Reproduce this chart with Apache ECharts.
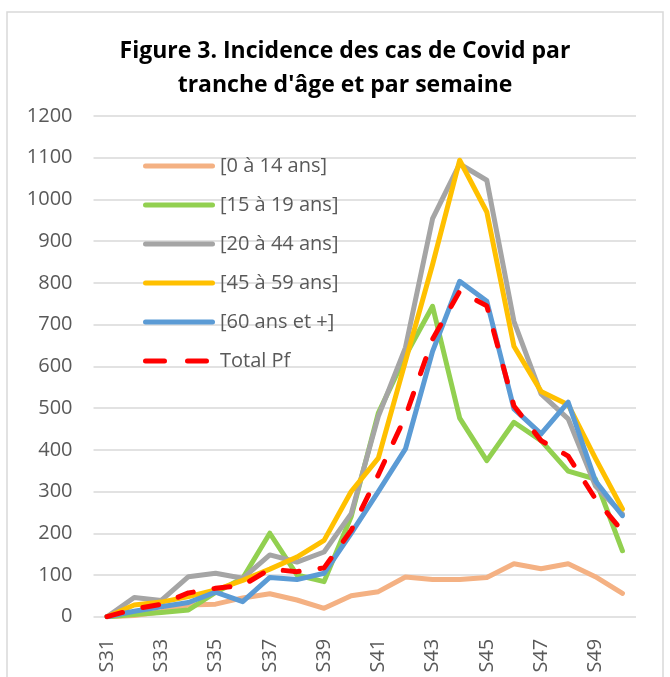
<!DOCTYPE html>
<html>
<head>
<meta charset="utf-8">
<title>Incidence Covid</title>
<script src="https://cdn.jsdelivr.net/npm/echarts@6/dist/echarts.min.js"></script>
<style>
  html, body {
    margin: 0;
    padding: 0;
    background: #FFFFFF;
  }
  #chart {
    width: 670px;
    height: 677px;
  }
</style>
</head>
<body>
<div id="chart"></div>
<script>
const weeks = ['S31', 'S32', 'S33', 'S34', 'S35', 'S36', 'S37', 'S38', 'S39', 'S40',
  'S41', 'S42', 'S43', 'S44', 'S45', 'S46', 'S47', 'S48', 'S49', 'S50']

const age0to14 = [0, 3, 12, 28, 30, 45, 55, 40, 20, 50, 60, 95, 89, 89, 94, 127, 115, 127, 96, 56]
const age15to19 = [0, 5, 10, 16, 58, 92, 200, 100, 84, 240, 488, 625, 744, 476, 374, 466, 422, 349, 330, 158]
const age20to44 = [0, 46, 39, 96, 104, 92, 148, 131, 155, 247, 480, 645, 954, 1085, 1046, 708, 534, 474, 314, 246]
const age45to59 = [0, 28, 35, 48, 64, 87, 114, 143, 183, 300, 380, 612, 844, 1094, 970, 648, 540, 508, 380, 258]
const age60plus = [0, 13, 24, 34, 59, 36, 94, 89, 104, 200, 300, 402, 636, 804, 756, 498, 438, 514, 326, 242]
const totalPf = [0, 18, 30, 57, 68, 75, 114, 108, 117, 207, 340, 480, 665, 780, 745, 505, 422, 385, 283, 205]

const seriesNames = ['[0 à 14 ans]', '[15 à 19 ans]', '[20 à 44 ans]', '[45 à 59 ans]', '[60 ans et +]', 'Total Pf']

const font = '"Open Sans", "Noto Sans", sans-serif'

// legend icons drawn like the Excel ones: a thick bar, or two dashes
const solidIcon = 'path://M2.5,0 H69.5 A2.5,2.5 0 0 1 69.5,5 H2.5 A2.5,2.5 0 0 1 2.5,0 Z'
const dashedIcon = 'path://M72,2.5 L72,2.5 M2.5,0 H21.5 A2.5,2.5 0 0 1 21.5,5 H2.5 A2.5,2.5 0 0 1 2.5,0 Z M44.5,0 H63.5 A2.5,2.5 0 0 1 63.5,5 H44.5 A2.5,2.5 0 0 1 44.5,0 Z'

const lineSeries = (name, data, color, dashed) => ({
  name: name,
  type: 'line',
  data: data,
  symbol: 'none',
  smooth: false,
  lineStyle: {
    color: color,
    width: 5,
    type: dashed ? [16, 21] : 'solid',
    cap: 'round',
    join: 'round'
  },
  itemStyle: {
    color: color
  }
})

const chart = echarts.init(document.getElementById('chart'))

const option = {
  animation: false,
  backgroundColor: '#FFFFFF',
  title: {
    text: 'Figure 3. Incidence des cas de Covid par\ntranche d\'âge et par semaine',
    left: 340,
    top: 29,
    textAlign: 'center',
    textStyle: {
      fontFamily: font,
      fontSize: 23,
      fontWeight: 'bold',
      color: '#000000',
      lineHeight: 34
    }
  },
  legend: {
    orient: 'vertical',
    left: 138,
    top: 149,
    itemWidth: 72,
    itemHeight: 5,
    itemGap: 15,
    textStyle: {
      fontFamily: font,
      fontSize: 20,
      lineHeight: 24,
      color: '#595959'
    },
    data: seriesNames.map((name, i) => ({
      name: name,
      icon: i === 5 ? dashedIcon : solidIcon
    }))
  },
  grid: {
    left: 93.5,
    right: 34,
    top: 116,
    bottom: 60.3
  },
  xAxis: {
    type: 'category',
    data: weeks,
    boundaryGap: true,
    axisLine: {
      show: false
    },
    axisTick: {
      show: false
    },
    axisLabel: {
      interval: 1,
      rotate: 90,
      margin: 22,
      fontFamily: font,
      fontSize: 20,
      color: '#595959'
    }
  },
  yAxis: {
    type: 'value',
    min: 0,
    max: 1200,
    interval: 100,
    axisLine: {
      show: false
    },
    axisTick: {
      show: false
    },
    splitLine: {
      lineStyle: {
        color: '#D9D9D9',
        width: 1.5
      }
    },
    axisLabel: {
      margin: 21,
      fontFamily: font,
      fontSize: 20,
      color: '#595959',
      formatter: (v) => String(v)
    }
  },
  graphic: [
    {
      type: 'rect',
      shape: {x: 7, y: 12, width: 656, height: 700},
      style: {fill: 'none', stroke: '#D9D9D9', lineWidth: 1.5},
      silent: true
    }
  ],
  series: [
    lineSeries(seriesNames[0], age0to14, '#F4B183'),
    lineSeries(seriesNames[1], age15to19, '#92D050'),
    lineSeries(seriesNames[2], age20to44, '#A5A5A5'),
    lineSeries(seriesNames[3], age45to59, '#FFC000'),
    lineSeries(seriesNames[4], age60plus, '#5B9BD5'),
    lineSeries(seriesNames[5], totalPf, '#FF0000', true)
  ]
}

chart.setOption(option)
</script>
</body>
</html>
